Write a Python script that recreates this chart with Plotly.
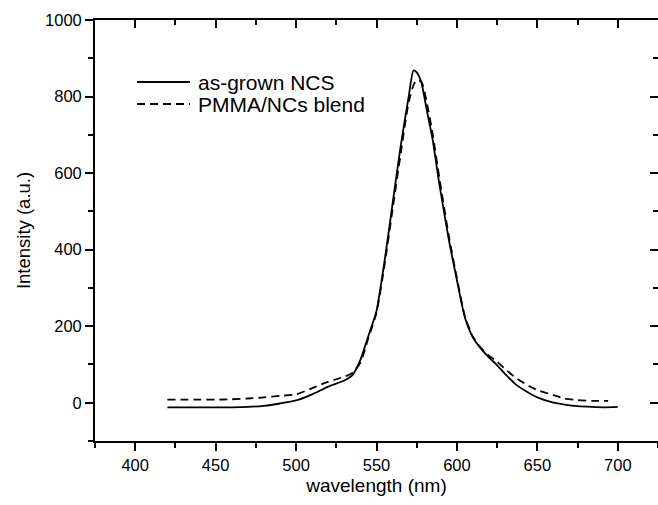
import plotly.graph_objects as go

# ---- data ----
wl_grown = [420, 430, 440, 450, 460, 470, 480, 490, 500, 510, 520, 530, 535, 540, 545,
            550, 555, 560, 565, 570, 573, 575, 578, 581, 585, 589, 595, 600, 605, 610,
            614, 620, 624, 630, 636, 643, 650, 660, 667, 675, 684, 692, 700]
int_grown = [-12, -12, -12, -12, -12, -11, -8, -2, 6, 22, 42, 58, 72, 112, 175,
             240, 370, 520, 670, 800, 868, 863, 835, 770, 685, 573, 425, 320, 222, 170,
             146, 118, 102, 75, 50, 30, 14, 0, -5, -9, -11, -12, -11]

wl_blend = [420, 430, 440, 450, 460, 470, 480, 490, 500, 510, 520, 530, 535, 540, 545,
            550, 555, 560, 565, 570, 573, 575, 578, 581, 585, 589, 595, 600, 605, 610,
            614, 620, 624, 630, 636, 643, 650, 660, 667, 675, 684, 694]
int_blend = [8, 8, 8, 8, 9, 11, 14, 18, 22, 38, 55, 68, 78, 105, 170,
             235, 360, 505, 650, 785, 830, 843, 838, 790, 700, 590, 435, 325, 225, 172,
             148, 122, 111, 88, 67, 48, 33, 20, 11, 7, 5, 5]

series_names = ["as-grown NCS", "PMMA/NCs blend"]

x_ticks = [400, 450, 500, 550, 600, 650, 700]
y_ticks = [0, 200, 400, 600, 800, 1000]
x_range = [375, 725]
y_range = [-100, 1000]

FONT = "Liberation Sans, Arial, sans-serif"
W, H = 658, 505
ML, MR, MT, MB = 95, 0, 20, 64
PW, PH = W - ML - MR, H - MT - MB


def px_to_paper(px, py):
    return (px - ML) / PW, 1 - (py - MT) / PH


fig = go.Figure()
fig.add_trace(go.Scatter(x=wl_grown, y=int_grown, mode="lines", name=series_names[0],
                         line=dict(color="black", width=1.8, shape="spline", smoothing=0.6)))
fig.add_trace(go.Scatter(x=wl_blend, y=int_blend, mode="lines", name=series_names[1],
                         line=dict(color="black", width=1.8, dash="8px,5px", shape="spline", smoothing=0.6)))
# invisible copy so the mirrored (top / right) axes get drawn
fig.add_trace(go.Scatter(x=wl_grown, y=int_grown, mode="lines", xaxis="x2", yaxis="y2",
                         opacity=0, line=dict(color="black", width=1), hoverinfo="skip", showlegend=False))

axis_common = dict(showgrid=False, zeroline=False, showline=True, linecolor="black",
                   linewidth=1.8, tickcolor="black", tickwidth=1.5, automargin=False,
                   tickfont=dict(family=FONT, size=16.5, color="black"))
minor_out = dict(ticks="outside", ticklen=5, tickcolor="black", tickwidth=1.5)
minor_in = dict(ticks="inside", ticklen=5, tickcolor="black", tickwidth=1.5)

fig.update_layout(
    width=W, height=H,
    margin=dict(l=ML, r=MR, t=MT, b=MB),
    plot_bgcolor="white", paper_bgcolor="white",
    font=dict(family=FONT, color="black"),
    showlegend=False,
    xaxis=dict(range=x_range, tickvals=x_ticks, ticks="outside", ticklen=8, mirror=True,
               minor=dict(dtick=25, tick0=0, **minor_out),
               title=dict(text="wavelength (nm)", font=dict(family=FONT, size=19, color="black"), standoff=6),
               **axis_common),
    yaxis=dict(range=y_range, tickvals=y_ticks, ticks="outside", ticklen=8, mirror=True,
               minor=dict(dtick=100, tick0=0, **minor_out),
               title=dict(text="Intensity (a.u.)", font=dict(family=FONT, size=18.5, color="black"), standoff=10),
               **axis_common),
    xaxis2=dict(range=x_range, overlaying="x", anchor="y", side="top", tickvals=x_ticks, ticks="inside",
                ticklen=8, showticklabels=False, minor=dict(dtick=25, tick0=0, **minor_in), **axis_common),
    yaxis2=dict(range=y_range, overlaying="y", anchor="x", side="right", tickvals=y_ticks, ticks="inside",
                ticklen=8, showticklabels=False, minor=dict(dtick=100, tick0=0, **minor_in), **axis_common),
)

# hand-drawn legend (long sample lines as in the reference)
legend_rows = [(series_names[0], "solid", 82), (series_names[1], "8px,5px", 104)]
for name, dash, py in legend_rows:
    x0, y0 = px_to_paper(137, py)
    x1, _ = px_to_paper(190, py)
    fig.add_shape(type="line", xref="paper", yref="paper", x0=x0, x1=x1, y0=y0, y1=y0,
                  line=dict(color="black", width=1.8, dash=dash))
    xt, _ = px_to_paper(196, py)
    fig.add_annotation(xref="paper", yref="paper", x=xt, y=y0, text=name, showarrow=False,
                       xanchor="left", yanchor="middle",
                       font=dict(family=FONT, size=21, color="black"))

fig.write_html("out.html", config={"displayModeBar": False},
               post_script="document.body.style.margin='0';document.body.style.overflow='hidden';")
